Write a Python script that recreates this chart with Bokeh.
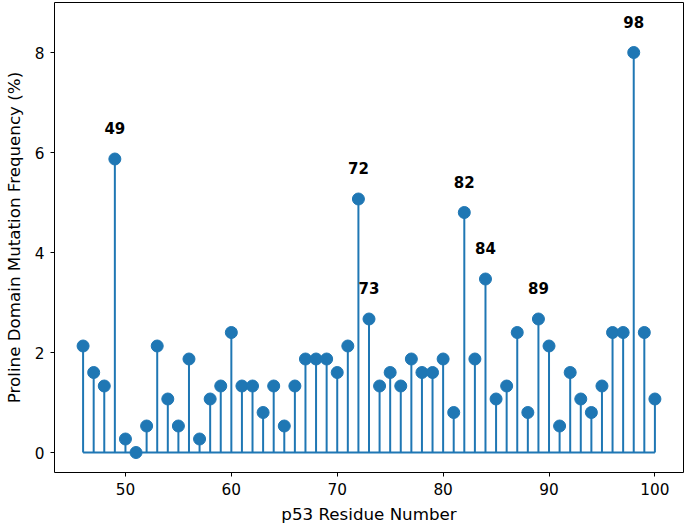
from bokeh.plotting import figure
from bokeh.models import Range1d, ColumnDataSource, FixedTicker
from bokeh.core.properties import value
from bokeh.embed import file_html
from bokeh.resources import INLINE

residues = list(range(46, 101))
frequency = [2.13, 1.6, 1.33, 5.87, 0.27, 0.0, 0.53, 2.13, 1.07, 0.53,
             1.87, 0.27, 1.07, 1.33, 2.4, 1.33, 1.33, 0.8, 1.33, 0.53,
             1.33, 1.87, 1.87, 1.87, 1.6, 2.13, 5.07, 2.67, 1.33, 1.6,
             1.33, 1.87, 1.6, 1.6, 1.87, 0.8, 4.8, 1.87, 3.47, 1.07,
             1.33, 2.4, 0.8, 2.67, 2.13, 0.53, 1.6, 1.07, 0.8, 1.33,
             2.4, 2.4, 8.0, 2.4, 1.07]
highlighted = [49, 72, 73, 82, 84, 89, 98]
x_ticks = [50, 60, 70, 80, 90, 100]
y_ticks = [0, 2, 4, 6, 8]

BLUE = "#1f77b4"
FONT = "DejaVu Sans"

p = figure(width=684, height=526, output_backend="svg", toolbar_location=None,
           x_range=Range1d(43.3, 102.7), y_range=Range1d(-0.4, 9.0),
           min_border_left=45, min_border_right=1, min_border_top=2,
           min_border_bottom=54)
p.background_fill_color = "white"
p.border_fill_color = "white"
p.outline_line_color = "black"
p.outline_line_width = 1
p.grid.visible = False

src = ColumnDataSource(dict(x=residues, y=frequency, zero=[0] * len(residues)))
p.segment(x0=min(residues), x1=max(residues), y0=0, y1=0, line_color=BLUE, line_width=2)
p.segment(x0="x", y0="zero", x1="x", y1="y", source=src, line_color=BLUE, line_width=2)
p.scatter("x", "y", source=src, size=12, fill_color=BLUE, line_color=BLUE)

lab_y = [frequency[residues.index(r)] for r in highlighted]
lab_src = ColumnDataSource(dict(x=highlighted, y=lab_y, t=[str(r) for r in highlighted]))
p.text("x", "y", text="t", source=lab_src, text_align="center", text_baseline="bottom",
       y_offset=-25, text_font=value(FONT), text_font_style="bold",
       text_font_size="15px", text_color="black")

p.xaxis.ticker = FixedTicker(ticks=x_ticks)
p.yaxis.ticker = FixedTicker(ticks=y_ticks)
for ax in (p.xaxis, p.yaxis):
    ax.axis_line_color = None
    ax.major_tick_line_color = "black"
    ax.major_tick_in = 0
    ax.major_tick_out = 4
    ax.minor_tick_line_color = None
    ax.major_label_text_font = FONT
    ax.major_label_text_font_size = "15.3px"
    ax.major_label_text_color = "black"
    ax.major_label_standoff = 6
    ax.axis_label_text_font = FONT
    ax.axis_label_text_font_size = "16.7px"
    ax.axis_label_text_font_style = "normal"
    ax.axis_label_text_color = "black"
p.xaxis.axis_label = "p53 Residue Number"
p.yaxis.axis_label = "Proline Domain Mutation Frequency (%)"
p.xaxis.axis_label_standoff = 6
p.yaxis.axis_label_standoff = 8

open("out.html", "w").write(file_html(p, INLINE))
